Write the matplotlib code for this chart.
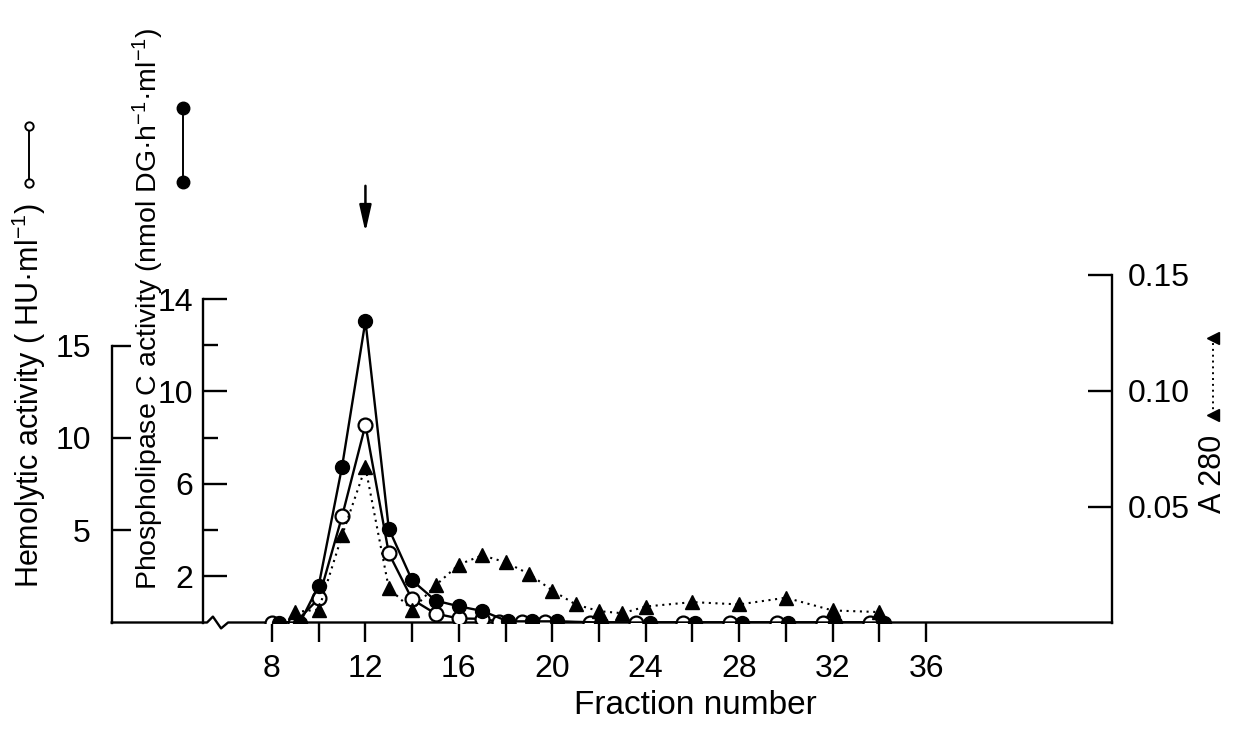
import matplotlib
matplotlib.use("Agg")
import matplotlib.pyplot as plt
from matplotlib.lines import Line2D
from matplotlib.ticker import FixedLocator

plt.rcParams['font.family'] = ['Liberation Sans', 'DejaVu Sans']
plt.rcParams['mathtext.default'] = 'regular'

# phospholipase C activity (filled circles), nmol DG / h / ml
plc_fraction = [8.3, 9.2, 10, 11, 12, 13, 14, 15, 16, 17, 18.1, 19.15, 20.2,
                22.1, 24.2, 26.1, 28.1, 30.1, 32.1, 34.2]
plc_activity = [0, 0, 1.6, 6.75, 13.05, 4.06, 1.82, 0.95, 0.7, 0.5, 0.05, 0.05,
                0.05, 0, 0, 0, 0, 0, 0, 0]

# hemolytic activity (open circles), HU / ml
hu_fraction = [8, 9, 10, 11, 12, 13, 14, 15, 16, 17, 17.7, 18.7, 19.7,
               21.6, 23.6, 25.6, 27.6, 29.6, 31.6, 33.6]
hu_activity = [0, 0, 1.3, 5.75, 10.7, 3.75, 1.25, 0.48, 0.22, 0.2, 0.05, 0.05,
               0.05, 0, 0, 0, 0, 0, 0, 0]

# absorbance at 280 nm (triangles)
a280_fraction = [9, 10, 11, 12, 13, 14, 15, 16, 17, 18, 19, 20, 21, 22, 23, 24,
                 26, 28, 30, 32, 34]
a280_value = [0.0045, 0.0056, 0.0376, 0.067, 0.0148, 0.0055, 0.016, 0.025,
              0.029, 0.026, 0.021, 0.0138, 0.0078, 0.0049, 0.004, 0.0069,
              0.0088, 0.0078, 0.0107, 0.0052, 0.0045]

x_major = [8, 12, 16, 20, 24, 28, 32, 36]
x_minor = [10, 14, 18, 22, 26, 30, 34]
hu_ticks = [5, 10, 15]
plc_major = [2, 6, 10, 14]
plc_minor = [4, 8, 12]
a280_ticks = [0.05, 0.10, 0.15]
a280_labels = ['0.05', '0.10', '0.15']
peak_fraction = 12

W, H = 1237, 730
fig = plt.figure(figsize=(W / 100, H / 100), dpi=100)

def fx(px):
    return px / W

def fy(py):
    return 1 - py / H

ax = fig.add_axes([fx(111.7), fy(622.5), fx(1112) - fx(111.7), fy(275) - fy(622.5)])
ax_plc = ax.twinx()
ax_a = ax.twinx()

xmin, xmax = 1.138, 43.96
ax.set_xlim(xmin, xmax)
ax.set_ylim(0, 18.82)
ax_plc.set_ylim(0, 15.04)
ax_a.set_ylim(0, 0.15)

fs = 23
lab_fs = 22
lw = 1.7

# hemolytic axis (outer left)
for a in (ax, ax_plc, ax_a):
    for s in a.spines.values():
        s.set_visible(False)
        s.set_linewidth(lw)
ax.spines['left'].set_visible(True)
ax.spines['left'].set_bounds(0, 15)
ax.yaxis.set_major_locator(FixedLocator(hu_ticks))
ax.tick_params(axis='y', direction='in', length=13.5, width=lw, pad=15, labelsize=fs)

# phospholipase C axis (inner left)
ax_plc.yaxis.tick_left()
ax_plc.spines['left'].set_visible(True)
ax_plc.spines['left'].set_position(('data', 5.03))
ax_plc.spines['left'].set_bounds(0, 14)
ax_plc.yaxis.set_major_locator(FixedLocator(plc_major))
ax_plc.yaxis.set_minor_locator(FixedLocator(plc_minor))
ax_plc.tick_params(axis='y', which='major', direction='in', length=17, width=lw, pad=7, labelsize=fs)
ax_plc.tick_params(axis='y', which='minor', direction='in', length=11, width=lw)

# A280 axis (right)
ax_a.spines['right'].set_visible(True)
ax_a.spines['right'].set_bounds(0, 0.15)
ax_a.set_yticks(a280_ticks)
ax_a.set_yticklabels(a280_labels)
ax_a.tick_params(axis='y', direction='in', length=17, width=lw, pad=11, labelsize=fs)

# x axis
ax.xaxis.set_major_locator(FixedLocator(x_major))
ax.xaxis.set_minor_locator(FixedLocator(x_minor))
ax.tick_params(axis='x', which='both', direction='out', length=14, width=lw, pad=9, labelsize=fs)

# baseline with a break after the PLC axis
zx = [xmin, 5.22, 5.47, 5.82, 6.12, xmax]
zy = [0, 0, 0.017, -0.017, 0, 0]
ax.plot(zx, zy, color='black', lw=lw, transform=ax.get_xaxis_transform(), clip_on=False, zorder=3)

# data
ax_a.plot(a280_fraction, a280_value, linestyle=(0, (1, 2.2)), color='black', lw=1.5,
          marker='^', markersize=10, markerfacecolor='black', markeredgecolor='black', zorder=2)
ax.plot(hu_fraction, hu_activity, color='black', lw=lw, marker='o', markersize=10,
        markerfacecolor='white', markeredgecolor='black', markeredgewidth=1.6, zorder=3)
ax_plc.plot(plc_fraction, plc_activity, color='black', lw=lw, marker='o', markersize=10,
            markerfacecolor='black', markeredgecolor='black', zorder=4)

# arrow marking the peak fraction
ax_plc.annotate('', xy=(peak_fraction, 16.9), xytext=(peak_fraction, 18.9),
                arrowprops=dict(arrowstyle='-|>,head_length=0.8,head_width=0.18',
                                color='black', lw=1.8, mutation_scale=20,
                                shrinkA=0, shrinkB=0),
                annotation_clip=False)

ax.text(fx(695), fy(705), 'Fraction number', transform=fig.transFigure,
        ha='center', va='center', fontsize=24)

# axis labels with series symbols
fig.text(fx(29), fy(588), 'Hemolytic activity ( HU·ml$^{-1}$)', rotation=90,
         ha='center', va='bottom', fontsize=lab_fs)
fig.add_artist(Line2D([fx(29), fx(29)], [fy(183), fy(126)], transform=fig.transFigure,
                      color='black', lw=1.4, marker='o', markersize=6,
                      markerfacecolor='white', markeredgecolor='black', markeredgewidth=1.4))

fig.text(fx(148), fy(590), 'Phospholipase C activity (nmol DG·h$^{-1}$·ml$^{-1}$)', rotation=90,
         ha='center', va='bottom', fontsize=20.5)
fig.add_artist(Line2D([fx(183), fx(183)], [fy(182), fy(108)], transform=fig.transFigure,
                      color='black', lw=1.4, marker='o', markersize=9,
                      markerfacecolor='black', markeredgecolor='black'))

fig.text(fx(1213), fy(513), 'A 280', rotation=90, ha='center', va='bottom', fontsize=lab_fs)
fig.add_artist(Line2D([fx(1213), fx(1213)], [fy(415), fy(338)], transform=fig.transFigure,
                      color='black', lw=1.4, linestyle=(0, (1, 2)), marker='<', markersize=9,
                      markerfacecolor='black', markeredgecolor='black'))

fig.savefig('out.png', dpi=100)
